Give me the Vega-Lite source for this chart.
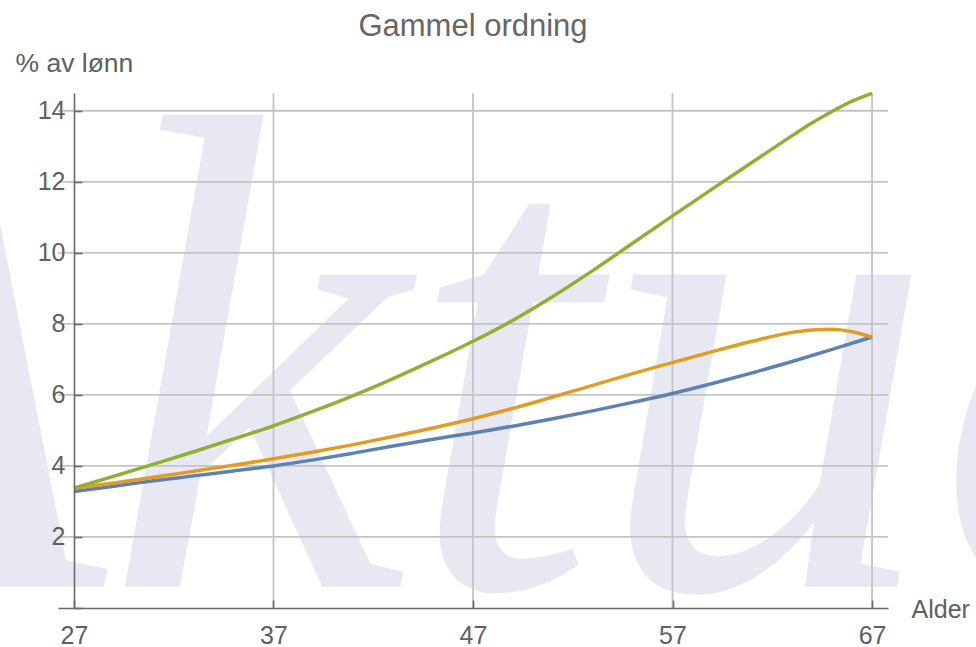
{
  "$schema": "https://vega.github.io/schema/vega-lite/v6.json",
  "autosize": {"type": "none"},
  "padding": {"left": 58, "top": 93, "right": 88, "bottom": 39},
  "width": 830,
  "height": 515,
  "background": "white",
  "title": {"text": "Gammel ordning", "fontSize": 31, "font": "Liberation Sans", "fontWeight": "normal", "color": "#666666", "anchor": "middle", "offset": 0},
  "config": {"view": {"stroke": null}},
  "datasets": {
    "lines": [
      {"age": 27, "value": 3.28, "series": "A"}, {"age": 29, "value": 3.43, "series": "A"}, {"age": 31, "value": 3.58, "series": "A"}, {"age": 33, "value": 3.72, "series": "A"}, {"age": 35, "value": 3.86, "series": "A"}, {"age": 37, "value": 4.0, "series": "A"}, {"age": 39, "value": 4.17, "series": "A"}, {"age": 41, "value": 4.36, "series": "A"}, {"age": 43, "value": 4.56, "series": "A"}, {"age": 45, "value": 4.75, "series": "A"}, {"age": 47, "value": 4.93, "series": "A"}, {"age": 49, "value": 5.12, "series": "A"}, {"age": 51, "value": 5.33, "series": "A"}, {"age": 53, "value": 5.55, "series": "A"}, {"age": 55, "value": 5.79, "series": "A"}, {"age": 57, "value": 6.04, "series": "A"}, {"age": 59, "value": 6.32, "series": "A"}, {"age": 61, "value": 6.62, "series": "A"}, {"age": 63, "value": 6.94, "series": "A"}, {"age": 65, "value": 7.28, "series": "A"}, {"age": 67, "value": 7.63, "series": "A"},
      {"age": 27, "value": 3.37, "series": "B"}, {"age": 29, "value": 3.52, "series": "B"}, {"age": 31, "value": 3.68, "series": "B"}, {"age": 33, "value": 3.85, "series": "B"}, {"age": 35, "value": 4.02, "series": "B"}, {"age": 37, "value": 4.2, "series": "B"}, {"age": 39, "value": 4.39, "series": "B"}, {"age": 41, "value": 4.6, "series": "B"}, {"age": 43, "value": 4.83, "series": "B"}, {"age": 45, "value": 5.07, "series": "B"}, {"age": 47, "value": 5.33, "series": "B"}, {"age": 49, "value": 5.62, "series": "B"}, {"age": 51, "value": 5.94, "series": "B"}, {"age": 53, "value": 6.27, "series": "B"}, {"age": 55, "value": 6.6, "series": "B"}, {"age": 57, "value": 6.91, "series": "B"}, {"age": 59, "value": 7.22, "series": "B"}, {"age": 61, "value": 7.51, "series": "B"}, {"age": 63, "value": 7.76, "series": "B"}, {"age": 64, "value": 7.83, "series": "B"}, {"age": 65, "value": 7.85, "series": "B"}, {"age": 66, "value": 7.78, "series": "B"}, {"age": 67, "value": 7.63, "series": "B"},
      {"age": 27, "value": 3.38, "series": "C"}, {"age": 29, "value": 3.71, "series": "C"}, {"age": 31, "value": 4.05, "series": "C"}, {"age": 33, "value": 4.4, "series": "C"}, {"age": 35, "value": 4.76, "series": "C"}, {"age": 37, "value": 5.13, "series": "C"}, {"age": 39, "value": 5.54, "series": "C"}, {"age": 41, "value": 5.98, "series": "C"}, {"age": 43, "value": 6.46, "series": "C"}, {"age": 45, "value": 6.97, "series": "C"}, {"age": 47, "value": 7.51, "series": "C"}, {"age": 49, "value": 8.1, "series": "C"}, {"age": 51, "value": 8.77, "series": "C"}, {"age": 53, "value": 9.5, "series": "C"}, {"age": 55, "value": 10.27, "series": "C"}, {"age": 57, "value": 11.04, "series": "C"}, {"age": 59, "value": 11.8, "series": "C"}, {"age": 61, "value": 12.55, "series": "C"}, {"age": 63, "value": 13.3, "series": "C"}, {"age": 64, "value": 13.66, "series": "C"}, {"age": 65, "value": 13.98, "series": "C"}, {"age": 66, "value": 14.27, "series": "C"}, {"age": 67, "value": 14.49, "series": "C"}
    ],
    "hgrid": [{"g": 2}, {"g": 4}, {"g": 6}, {"g": 8}, {"g": 10}, {"g": 12}, {"g": 14}],
    "vgrid": [{"a": 37}, {"a": 47}, {"a": 57}, {"a": 67}],
    "mark": [{"label": "Aktua"}]
  },
  "layer": [
    {
      "data": {"name": "mark"},
      "mark": {"type": "text", "font": "Liberation Serif", "fontStyle": "italic", "fontSize": 680, "color": "#e8e8f2", "align": "center", "baseline": "alphabetic"},
      "encoding": {
        "x": {"datum": 47.5},
        "y": {"datum": 0.6},
        "text": {"field": "label"}
      }
    },
    {
      "data": {"name": "vgrid"},
      "mark": {"type": "rule", "color": "#c4c4c4", "strokeWidth": 1.8},
      "encoding": {"x": {"field": "a", "type": "quantitative"}}
    },
    {
      "data": {"name": "hgrid"},
      "mark": {"type": "rule", "color": "#c4c4c4", "strokeWidth": 1.8},
      "encoding": {"y": {"field": "g", "type": "quantitative"}}
    },
    {
      "data": {"name": "lines"},
      "mark": {"type": "line", "strokeWidth": 3.5, "interpolate": "monotone"},
      "encoding": {
        "x": {
          "field": "age", "type": "quantitative",
          "scale": {"domain": [26.2, 67.8], "nice": false, "zero": false},
          "axis": {
            "zindex": 1,
            "values": [27, 37, 47, 57, 67],
            "grid": false,
            "domainColor": "#6a6a6a", "domainWidth": 1.6,
            "tickColor": "#6a6a6a", "tickWidth": 1.6, "tickSize": -8,
            "labelFont": "Liberation Sans", "labelFontSize": 25, "labelColor": "#606060",
            "labelBaseline": "alphabetic", "labelPadding": 43, "labelFlush": false,
            "title": "Alder", "titleFont": "Liberation Sans", "titleFontSize": 25, "titleFontWeight": "normal", "titleColor": "#606060",
            "titleAlign": "left", "titleBaseline": "alphabetic", "titleAnchor": "start", "titleX": 853, "titleY": 9
          }
        },
        "y": {
          "field": "value", "type": "quantitative",
          "scale": {"domain": [0, 14.5], "nice": false},
          "axis": {
            "zindex": 1,
            "offset": -16,
            "values": [0, 0.5, 1, 1.5, 2, 2.5, 3, 3.5, 4, 4.5, 5, 5.5, 6, 6.5, 7, 7.5, 8, 8.5, 9, 9.5, 10, 10.5, 11, 11.5, 12, 12.5, 13, 13.5, 14, 14.5],
            "labelExpr": "datum.value > 0 && datum.value % 2 === 0 ? datum.label : ''",
            "grid": false,
            "domainColor": "#6a6a6a", "domainWidth": 1.6,
            "tickColor": "#6a6a6a", "tickWidth": 1.6, "tickSize": -8,
            "labelFont": "Liberation Sans", "labelFontSize": 25, "labelColor": "#606060", "labelPadding": 17,
            "title": "% av lønn", "titleFont": "Liberation Sans", "titleFontSize": 26.5, "titleFontWeight": "normal", "titleColor": "#606060",
            "titleAngle": 0, "titleAlign": "left", "titleBaseline": "alphabetic", "titleAnchor": "end", "titleX": -59, "titleY": -22
          }
        },
        "color": {
          "field": "series", "type": "nominal",
          "scale": {"domain": ["A", "B", "C"], "range": ["#5E81B5", "#E19C24", "#8FB032"]},
          "legend": null
        }
      }
    }
  ]
}
